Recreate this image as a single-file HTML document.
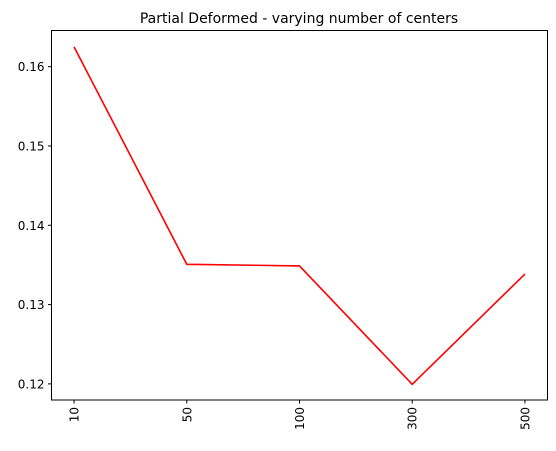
<!DOCTYPE html>
<html><head><meta charset="utf-8"><style>
body{margin:0;background:#fff;}
svg text{font-family:"DejaVu Sans","Liberation Sans",sans-serif;}
</style></head><body>
<svg width="556" height="446" id="chart">
<text x="299" y="23" text-anchor="middle" font-size="14">Partial Deformed - varying number of centers</text>
<g id="ticks"></g>
<path id="line" fill="none" stroke="#ff0000" stroke-width="1.6"></path>
<rect x="51.5" y="30.5" width="496" height="369.5" fill="none" stroke="#000" stroke-width="1"></rect>
</svg>
<script>
const categories = ["10","50","100","300","500"];
const values = [0.1625, 0.13508, 0.13488, 0.11995, 0.13385];
const yTicks = [0.12, 0.13, 0.14, 0.15, 0.16];
const yTickLabels = ["0.12","0.13","0.14","0.15","0.16"];

const L=51.5,R=547.5,T=30.5,B=400;
const yMin=0.11797,yMax=0.16456;
const n=categories.length;
const pad=0.2;
function x(i){return L+(i+pad)/(n-1+2*pad)*(R-L);}
function y(v){return B-(v-yMin)/(yMax-yMin)*(B-T);}
const NS="http://www.w3.org/2000/svg";
const g=document.getElementById('ticks');
function mk(tag,attrs){const e=document.createElementNS(NS,tag);for(const k in attrs)e.setAttribute(k,attrs[k]);g.appendChild(e);return e;}
yTicks.forEach((t,i)=>{
  const yy=y(t);
  const l=mk('line',{x1:L-3.5,x2:L,y1:yy,y2:yy,stroke:'#000','stroke-width':1});
  
  
  const tx=mk('text',{x:L-7,y:yy+4.5,'text-anchor':'end','font-size':12});
  tx.textContent=yTickLabels[i];
  
  
});
categories.forEach((c,i)=>{
  const xx=x(i);
  const l=mk('line',{x1:xx,x2:xx,y1:B,y2:B+3.5,stroke:'#000','stroke-width':1});
  
  
  const tx=mk('text',{x:0,y:0,'text-anchor':'end','font-size':12,transform:`translate(${xx+4.5},${B+7}) rotate(-90)`});
  tx.textContent=c;
  
  
});
document.getElementById('line').setAttribute('d',values.map((v,i)=>(i?'L':'M')+x(i).toFixed(2)+','+y(v).toFixed(2)).join(' '));
</script>
</body></html>
